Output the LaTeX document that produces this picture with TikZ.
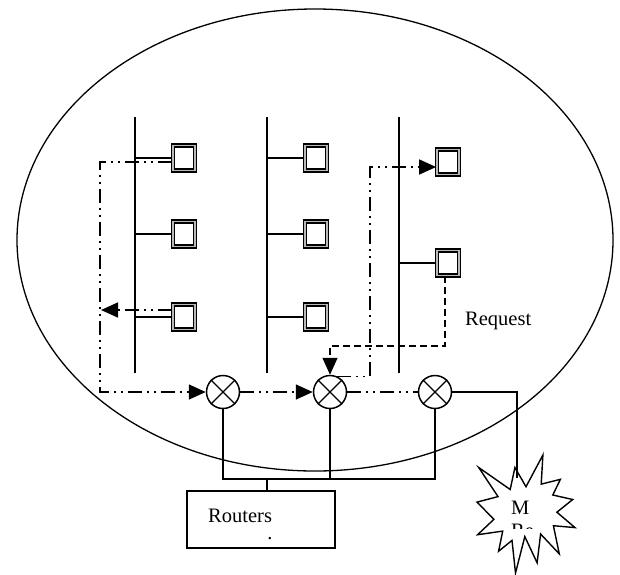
\documentclass[tikz,border=0pt]{standalone}
\usepackage{fontspec}
\setmainfont{Liberation Serif}
\usetikzlibrary{arrows.meta}
\begin{document}
\begin{tikzpicture}[x=1pt,y=-1pt,
  dev/.style={draw, line width=1.3pt, double=gray!55, double distance=1.8pt, fill=white,
    minimum width=22.5pt, minimum height=25pt, inner sep=0pt},
  mix/.style={circle, draw, line width=1.5pt, minimum size=33pt, inner sep=0pt},
  conn/.style={line width=1.5pt},
  bus/.style={line width=2.2pt},
  dd/.style={line width=1.6pt, dash pattern=on 14pt off 5pt on 2pt off 5pt on 2pt off 5pt},
  dsh/.style={line width=1.5pt, dash pattern=on 7pt off 4pt},
  arr/.style={-{Triangle[length=17pt,width=15pt]}},
  lbl/.style={font=\fontsize{20.5}{23}\selectfont, inner sep=0pt}]
\useasboundingbox (0,0) rectangle (620,574);

% enclosing ellipse
\draw[line width=1.3pt] (315,240) ellipse [x radius=298pt, y radius=231pt];

% buses
\coordinate (b1t) at (135,117); \coordinate (b1b) at (135,373);
\coordinate (b2t) at (267,117); \coordinate (b2b) at (267,373);
\coordinate (b3t) at (399,117); \coordinate (b3b) at (399,373);
\draw[bus] (b1t) -- (b1b);
\draw[bus] (b2t) -- (b2b);
\draw[bus] (b3t) -- (b3b);

% devices
\node[dev] (s1) at (184,158) {};
\node[dev] (s2) at (184,234) {};
\node[dev] (s3) at (184,317) {};
\node[dev] (s4) at (316,158) {};
\node[dev] (s5) at (316,234) {};
\node[dev] (s6) at (316,317) {};
\node[dev] (s7) at (448,162) {};
\node[dev] (s8) at (448,263) {};

\draw[conn] (s1.west) -- (s1.west -| b1t);
\draw[conn] (s2.west) -- (s2.west -| b1t);
\draw[conn] (s3.west) -- (s3.west -| b1t);
\draw[conn] (s4.west) -- (s4.west -| b2t);
\draw[conn] (s5.west) -- (s5.west -| b2t);
\draw[conn] (s6.west) -- (s6.west -| b2t);
\draw[conn] (s8.west) -- (s8.west -| b3t);

% mixers
\node[mix] (c1) at (223,392) {};
\node[mix] (c2) at (330,392) {};
\node[mix] (c3) at (435,392) {};
\foreach \c in {c1,c2,c3}{
  \draw[line width=1.3pt] (\c.45) -- (\c.225) (\c.135) -- (\c.315);
}

% dash-dot flows
\coordinate (lc) at (100,392);
\draw[dd,arr] ([yshift=-4pt]s1.west) -| (lc) -- (c1.west);
\coordinate (la) at (101,310);
\draw[dd,arr] ([yshift=7pt]s3.west) -- (la);
\draw[dd,arr] (c1.east) -- (c2.west);
\draw[dd] (c2.east) -- (c3.west);
\coordinate (up) at (370,167);
\draw[dd,arr] (c2.65) -| (up) -- ([yshift=-5pt]s7.west);

% request
\coordinate (rq) at (330,346);
\draw[dsh,arr] ([xshift=-3pt]s8.south) |- (rq) -- (c2.north);
\node[lbl, anchor=base west] (req) at (465,325) {Request};

% routers
\coordinate (hy) at (0,479);
\node[draw, line width=1.4pt, minimum width=148pt, minimum height=57pt, inner sep=0pt] (rt) at (261,519.5) {};
\node[lbl, anchor=base west] (rtl) at (208,522) {Routers};
\node[lbl, anchor=base, text height=2pt, text depth=0pt] (rtd) at (270,539) {.};
\draw[conn] (c1.south) |- (c3.south |- hy) -- (c3.south);
\draw[conn] (c2.south) -- (c2.south |- hy);
\draw[conn] ([xshift=6pt]rt.north) -- ([xshift=6pt]rt.north |- hy);

% explosion
\coordinate (stt) at (517,478);
\draw[conn] (c3.east) -| (stt);
\draw[line width=1.4pt, line join=miter] (526.0,486.7) -- (542.9,455) -- (541.2,484.1) -- (560.4,479.3)
  -- (552.8,495.0) -- (572.7,499.5) -- (556.9,512.2) -- (575,527.6) -- (553.4,525.7)
  -- (559.3,553.9) -- (540.6,534.0) -- (537.1,562.8) -- (524.8,536.6) -- (515.5,573)
  -- (512.0,540.4) -- (498.6,551.2) -- (502.7,531.1) -- (477.6,534.7) -- (493.9,519.3)
  -- (477,502.1) -- (498.0,496.6) -- (478.7,467.5) -- (510.2,489.5) -- (514.9,467.5) -- cycle;
\begin{scope}
  \clip (485,490) rectangle (570,528);
  \node[lbl, anchor=base west] (m1) at (511,514) {M};
  \node[lbl, anchor=base west] (m2) at (511,537) {Re};
\end{scope}
\end{tikzpicture}
\end{document}
